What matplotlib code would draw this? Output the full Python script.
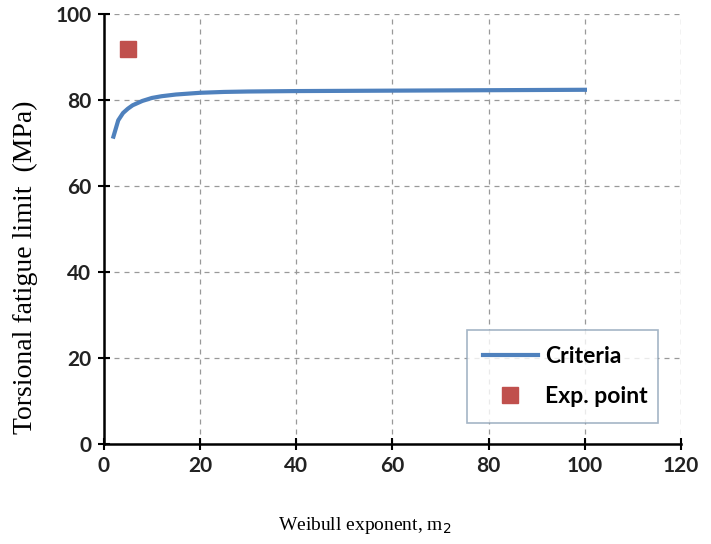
import matplotlib.pyplot as plt

# Criteria curve
m2 = [2, 3, 4, 5, 6, 8, 10, 12, 15, 20, 25, 30, 40, 50, 60, 70, 80, 90, 100]
limit = [71.5, 75.3, 77.0, 78.0, 78.8, 79.8, 80.5, 80.9, 81.3, 81.7, 81.9, 82.0,
         82.1, 82.15, 82.2, 82.25, 82.3, 82.35, 82.4]

# experimental point
exp_m2 = [5]
exp_limit = [92]

xticks = [0, 20, 40, 60, 80, 100, 120]
yticks = [0, 20, 40, 60, 80, 100]

fig = plt.figure(figsize=(7.11, 5.44), dpi=100)
ax = fig.add_axes([0.146, 0.184, 0.812, 0.790])

ax.plot(m2, limit, color='#4F81BD', lw=3, label='Criteria')
ax.plot(exp_m2, exp_limit, ls='none', marker='s', ms=12, color='#C0504D',
        label='Exp. point')

ax.set_xlim(0, 120)
ax.set_ylim(0, 100)
ax.set_xticks(xticks)
ax.set_yticks(yticks)
ax.grid(True, ls=(0, (4, 4)), color='#999999', lw=0.9)
ax.set_axisbelow(True)

for s in ['top', 'right']:
    ax.spines[s].set_visible(False)
for s in ['left', 'bottom']:
    ax.spines[s].set_linewidth(1.8)
    ax.spines[s].set_color('black')

ax.tick_params(direction='inout', length=8, width=1.5, labelsize=15, pad=5)
for lab in ax.get_xticklabels() + ax.get_yticklabels():
    lab.set_family('Lato')
    lab.set_fontweight('bold')
    lab.set_color('#222222')

ax.set_xlabel('Weibull exponent, m$_2$', family='Liberation Serif', fontsize=14,
              va='center')
ax.set_ylabel('Torsional fatigue limit  (MPa)', family='Liberation Serif',
              fontsize=20, va='center')
ax.xaxis.set_label_coords(0.452, -0.19)
ax.yaxis.set_label_coords(-0.135, 0.41)

leg = ax.legend(loc='lower left', bbox_to_anchor=(0.629, 0.049, 0.331, 0.216),
                mode='expand', frameon=True, fancybox=False, borderpad=0.7,
                borderaxespad=0, labelspacing=0.8, handlelength=2.4,
                handletextpad=0.3,
                prop={'family': 'Lato', 'weight': 'bold', 'size': 16.5})
leg.get_frame().set_edgecolor('#8EA3B8')
leg.get_frame().set_linewidth(1.2)

fig.savefig('out.png', dpi=100)
